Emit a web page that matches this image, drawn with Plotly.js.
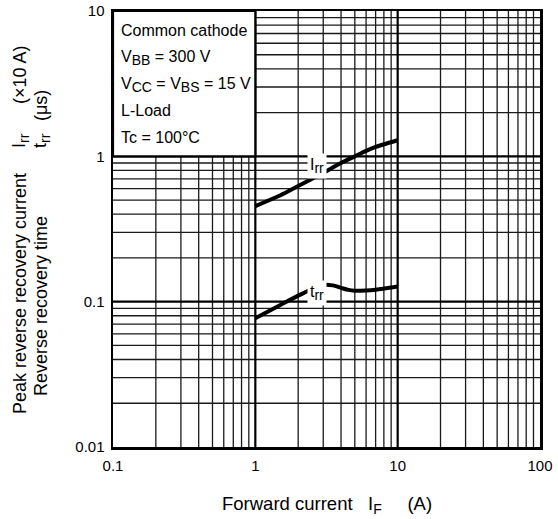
<!DOCTYPE html>
<html>
<head>
<meta charset="utf-8">
<script src="https://cdn.plot.ly/plotly-3.0.1.min.js"></script>
<style>html,body{margin:0;padding:0;background:#fff;}#chart{width:558px;height:519px;}</style>
</head>
<body>
<div id="chart"></div>
<script>
// Data
const irrX = [1, 1.5, 2, 3, 4, 5, 6, 7, 8, 10];
const irrY = [0.455, 0.54, 0.625, 0.77, 0.90, 1.0, 1.09, 1.16, 1.21, 1.29];
const trrX = [1, 1.5, 2, 2.5, 3, 3.5, 4, 4.5, 5, 6, 7, 8, 10];
const trrY = [0.077, 0.095, 0.110, 0.122, 0.1305, 0.1295, 0.1245, 0.1205, 0.119, 0.1195, 0.121, 0.123, 0.127];
const xDecades = [0.1, 1, 10, 100];
const xDecadeText = ["0.1", "1", "10", "100"];
const yDecades = [0.01, 0.1, 1, 10];
const yDecadeText = ["0.01", "0.1", "1", "10"];
const digits = [2, 3, 4, 5, 6, 7, 8, 9];
const conditions = ["Common cathode", "V<sub>BB</sub> = 300 V", "V<sub>CC</sub> = V<sub>BS</sub> = 15 V", "L-Load", "Tc = 100°C"];
const yTitle1 = ["Peak reverse recovery current", "I<sub>rr</sub>", "(×10 A)"];
const yTitle2 = ["Reverse recovery time", "t<sub>rr</sub>", "(μs)"];
const xTitle = "Forward current\u00a0\u00a0\u00a0I<sub>F</sub>\u00a0\u00a0\u00a0\u00a0\u00a0(A)";

// grid line values built from the decade arrays
const minorVals = decades => {
  const v = [];
  decades.slice(0, -1).forEach(d => digits.forEach(k => v.push(d * k)));
  return v;
};
const xMinor = minorVals(xDecades), yMinor = minorVals(yDecades);
const xInnerDec = xDecades.slice(1, -1), yInnerDec = yDecades.slice(1, -1);
const xLo = xDecades[0], xHi = xDecades[xDecades.length - 1];
const yLo = yDecades[0], yHi = yDecades[yDecades.length - 1];
function gridTrace(xv, yv, width, color) {
  const x = [], y = [];
  xv.forEach(v => { x.push(v, v, null); y.push(yLo, yHi, null); });
  yv.forEach(v => { x.push(xLo, xHi, null); y.push(v, v, null); });
  return {x, y, mode: "lines", line: {color, width}, hoverinfo: "skip", connectgaps: false};
}

const FONT = "Liberation Sans, Arial, sans-serif";
const L = 113, R = 540, T = 11, B = 447;
const px2x = p => (p - L) / (R - L);
const py2y = p => (B - p) / (B - T);
const subFix = s => s.replace(/<sub>(.*?)<\/sub>/g, "<sub><span style='font-size:14px'>$1</span></sub>");

const traces = [
  gridTrace(xMinor, yMinor, 1.3, "#1a1a1a"),
  gridTrace(xInnerDec, yInnerDec, 2.2, "#000"),
  {x: irrX, y: irrY, mode: "lines", line: {color: "#000", width: 4, shape: "spline", smoothing: 0.8}, hoverinfo: "skip"},
  {x: trrX, y: trrY, mode: "lines", line: {color: "#000", width: 4, shape: "spline", smoothing: 1}, hoverinfo: "skip"}
];

const condY = [31, 58, 85, 110, 137];
const annotations = conditions.map((t, i) => ({
  xref: "paper", yref: "paper", x: px2x(119), y: py2y(condY[i]),
  xanchor: "left", yanchor: "middle", text: subFix(t), showarrow: false,
  font: {family: FONT, size: 16, color: "#000"}
}));
annotations.push(
  {xref: "paper", yref: "paper", x: px2x(317), y: py2y(153), text: subFix("I<sub>rr</sub>"), showarrow: false,
   bgcolor: "#fff", borderpad: 2, font: {family: FONT, size: 16, color: "#000"}},
  {xref: "paper", yref: "paper", x: px2x(317), y: py2y(306), text: subFix("t<sub>rr</sub>"), showarrow: false,
   bgcolor: "#fff", borderpad: 2, font: {family: FONT, size: 16, color: "#000"}},
  {xref: "paper", yref: "paper", x: px2x(327), y: py2y(505), xanchor: "center", yanchor: "middle",
   text: subFix(xTitle), showarrow: false, font: {family: FONT, size: 18.5, color: "#000"}}
);
// rotated y title, two lines, each in three pieces
const t1Y = [294, 141, 75];
const t2Y = [306, 141, 106];
yTitle1.forEach((t, i) => annotations.push({xref: "paper", yref: "paper", x: px2x(20), y: py2y(t1Y[i]),
  textangle: -90, xanchor: "center", yanchor: "middle", text: subFix(t), showarrow: false,
  font: {family: FONT, size: 18, color: "#000"}}));
yTitle2.forEach((t, i) => annotations.push({xref: "paper", yref: "paper", x: px2x(41), y: py2y(t2Y[i]),
  textangle: -90, xanchor: "center", yanchor: "middle", text: subFix(t), showarrow: false,
  font: {family: FONT, size: 18, color: "#000"}}));

const axisCommon = {
  type: "log", showgrid: false,
  showline: true, linecolor: "#000", linewidth: 2.5, mirror: true,
  ticks: "", zeroline: false, fixedrange: true, tickmode: "array",
  tickfont: {family: FONT, size: 15, color: "#000"}
};

const layout = {
  width: 558, height: 519,
  margin: {l: L, r: 558 - R, t: T, b: 519 - B, pad: 0},
  paper_bgcolor: "#fff", plot_bgcolor: "#fff",
  showlegend: false,
  xaxis: Object.assign({}, axisCommon, {range: [-1, 2], tickvals: xDecades, ticktext: xDecadeText, ticklabelstandoff: 3}),
  yaxis: Object.assign({}, axisCommon, {range: [-2, 1], tickvals: yDecades, ticktext: yDecadeText, ticklabelstandoff: 3}),
  shapes: [
    {type: "rect", xref: "paper", yref: "paper", x0: 0, x1: 1/3, y0: 2/3, y1: 1,
     fillcolor: "#fff", line: {color: "#000", width: 2.2}, layer: "above"}
  ],
  annotations: annotations
};

Plotly.newPlot("chart", traces, layout, {staticPlot: true, displayModeBar: false});
</script>
</body>
</html>
